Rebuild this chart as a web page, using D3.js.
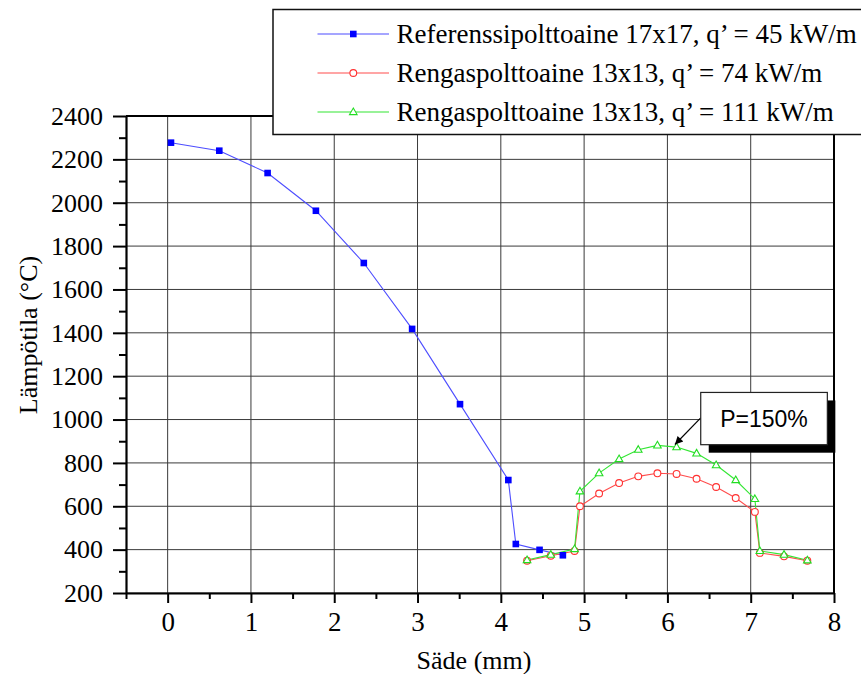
<!DOCTYPE html>
<html>
<head>
<meta charset="utf-8">
<script src="https://cdn.jsdelivr.net/npm/d3@7"></script>
<style>
  body { margin: 0; background: #fff; }
  svg { display: block; }
</style>
</head>
<body>
<script>
// radius (mm) and temperature (C)
var refX  = [0.04, 0.62, 1.20, 1.78, 2.355, 2.935, 3.51, 4.09, 4.18, 4.465, 4.745];
var refY  = [2277, 2240, 2137, 1963, 1722, 1418, 1071, 721, 426, 399, 374];

var ringX = [4.315, 4.60, 4.885, 4.95, 5.18, 5.42, 5.65, 5.88, 6.11, 6.35, 6.585, 6.82, 7.05, 7.11, 7.40, 7.68];
var ring74Y  = [349, 372, 394, 600, 659, 707, 738, 752, 749, 727, 689, 638, 574, 385, 369, 349];
var ring111Y = [352, 377, 403, 669, 753, 818, 861, 881, 873, 844, 790, 721, 634, 394, 377, 351];

var seriesNames = [
  "Referenssipolttoaine 17x17, q\u2019 = 45 kW/m",
  "Rengaspolttoaine 13x13, q\u2019 = 74 kW/m",
  "Rengaspolttoaine 13x13, q\u2019 = 111 kW/m"
];
var xTicks = [0, 1, 2, 3, 4, 5, 6, 7, 8];
var yTicks = [200, 400, 600, 800, 1000, 1200, 1400, 1600, 1800, 2000, 2200, 2400];

// annotation, in data units
var noteText = "P=150%";
var noteTip = [6.09, 885];      // arrow points here
var noteBox = [6.40, 7.92, 1125, 884];  // x0, x1, yTop, yBottom
var noteFrom = [6.40, 1008];

var W = 861, H = 674;
var serif = "'Liberation Serif', 'Times New Roman', serif";

var svg = d3.select("body").append("svg")
  .attr("width", W).attr("height", H);

var x = d3.scaleLinear().domain([-0.5, 8]).range([126, 834]);
var y = d3.scaleLinear().domain([200, 2400]).range([593, 116]);

// grid
var grid = svg.append("g").attr("stroke", "#3a3a3a").attr("stroke-width", 1);
grid.selectAll(".gx").data(xTicks).enter().append("line")
  .attr("x1", d => x(d)).attr("x2", d => x(d))
  .attr("y1", y(200)).attr("y2", y(2400));
grid.selectAll(".gy").data(yTicks).enter().append("line")
  .attr("y1", d => y(d)).attr("y2", d => y(d))
  .attr("x1", x(-0.5)).attr("x2", x(8));

// frame top + right
svg.append("path")
  .attr("d", "M" + x(-0.5) + "," + y(2400) + "H" + x(8) + "V" + y(200))
  .attr("fill", "none").attr("stroke", "#000").attr("stroke-width", 2);

// axes
var minorX = d3.range(-0.5, 8.01, 0.5).filter(v => !xTicks.includes(v));
var minorY = d3.range(300, 2400, 200);

function styleAxis(g, size) {
  g.attr("font-family", null).attr("font-size", null);
  g.select(".domain").attr("stroke-width", 2.2);
  g.selectAll(".tick line").attr("stroke-width", 2);
  g.selectAll("text").style("font-family", serif).style("font-size", size + "px").attr("fill", "#000");
}

svg.append("g").attr("transform", "translate(0," + y(200) + ")")
  .call(d3.axisBottom(x).tickValues(minorX).tickSize(6).tickFormat(""))
  .call(g => g.select(".domain").remove())
  .call(g => g.selectAll(".tick line").attr("stroke-width", 2));
svg.append("g").attr("transform", "translate(0," + y(200) + ")")
  .call(d3.axisBottom(x).tickValues(xTicks).tickSize(10).tickSizeOuter(0).tickPadding(9).tickFormat(d3.format("d")))
  .call(g => styleAxis(g, 27));

svg.append("g").attr("transform", "translate(" + x(-0.5) + ",0)")
  .call(d3.axisLeft(y).tickValues(minorY).tickSize(7).tickFormat(""))
  .call(g => g.select(".domain").remove())
  .call(g => g.selectAll(".tick line").attr("stroke-width", 2));
svg.append("g").attr("transform", "translate(" + x(-0.5) + ",0)")
  .call(d3.axisLeft(y).tickValues(yTicks).tickSize(13).tickSizeOuter(0).tickPadding(10).tickFormat(d3.format("d")))
  .call(g => styleAxis(g, 26));

// axis titles
svg.append("text")
  .attr("x", 474).attr("y", 669)
  .attr("text-anchor", "middle")
  .style("font-family", serif).style("font-size", "26px")
  .text("S\u00e4de (mm)");
svg.append("text")
  .attr("transform", "translate(37,335) rotate(-90)")
  .attr("text-anchor", "middle")
  .style("font-family", serif).style("font-size", "26px")
  .text("L\u00e4mp\u00f6tila (\u00b0C)");

// series
var series = [
  { xs: refX,  ys: refY,     line: "#4d4dff", mark: "#0000ff", sym: "square" },
  { xs: ringX, ys: ring74Y,  line: "#ff4d4d", mark: "#ff3030", sym: "circle" },
  { xs: ringX, ys: ring111Y, line: "#33e633", mark: "#22dd22", sym: "triangle" }
];

var line = d3.line().x(d => x(d[0])).y(d => y(d[1]));

function drawMarker(g, s, px, py) {
  if (s.sym === "square") {
    g.append("rect").attr("x", px - 3.3).attr("y", py - 3.3)
      .attr("width", 6.6).attr("height", 6.6).attr("fill", s.mark);
  } else if (s.sym === "circle") {
    g.append("circle").attr("cx", px).attr("cy", py).attr("r", 3.4)
      .attr("fill", "#fff").attr("stroke", s.mark).attr("stroke-width", 1.1);
  } else {
    g.append("path")
      .attr("d", "M" + px + "," + (py - 4) + "L" + (px + 3.8) + "," + (py + 2.6) + "L" + (px - 3.8) + "," + (py + 2.6) + "Z")
      .attr("fill", "#fff").attr("stroke", s.mark).attr("stroke-width", 1.1);
  }
}

series.forEach(function (s) {
  var pts = s.xs.map((v, i) => [v, s.ys[i]]);
  svg.append("path").datum(pts)
    .attr("d", line).attr("fill", "none")
    .attr("stroke", s.line).attr("stroke-width", 1.1);
});
series.forEach(function (s) {
  var g = svg.append("g");
  s.xs.forEach((v, i) => drawMarker(g, s, x(v), y(s.ys[i])));
});

// annotation
svg.append("defs").append("marker")
  .attr("id", "arrow").attr("viewBox", "0 0 10 10")
  .attr("refX", 10).attr("refY", 5)
  .attr("markerWidth", 11).attr("markerHeight", 8)
  .attr("markerUnits", "userSpaceOnUse")
  .attr("orient", "auto")
  .append("path").attr("d", "M0,0L10,5L0,10Z").attr("fill", "#000");

svg.append("line")
  .attr("x1", x(noteFrom[0])).attr("y1", y(noteFrom[1]))
  .attr("x2", x(noteTip[0])).attr("y2", y(noteTip[1]))
  .attr("stroke", "#000").attr("stroke-width", 1.2)
  .attr("marker-end", "url(#arrow)");

var bx = x(noteBox[0]), bw = x(noteBox[1]) - x(noteBox[0]);
var by = y(noteBox[2]), bh = y(noteBox[3]) - y(noteBox[2]);
svg.append("rect").attr("x", bx + 8).attr("y", by + 8)
  .attr("width", bw).attr("height", bh).attr("fill", "#000");
svg.append("rect").attr("x", bx).attr("y", by)
  .attr("width", bw).attr("height", bh)
  .attr("fill", "#fff").attr("stroke", "#222").attr("stroke-width", 1.2);
svg.append("text")
  .attr("x", bx + bw / 2).attr("y", by + bh / 2 + 8.5)
  .attr("text-anchor", "middle")
  .style("font-family", "'Liberation Sans', Arial, sans-serif").style("font-size", "23px")
  .text(noteText);

// legend
var leg = svg.append("g").attr("transform", "translate(273,9.5)");
leg.append("rect").attr("width", 600).attr("height", 125)
  .attr("fill", "#fff").attr("stroke", "#111").attr("stroke-width", 1.5);
series.forEach(function (s, i) {
  var ry = 24.5 + i * 39;
  var g = leg.append("g");
  g.append("line").attr("x1", 44.5).attr("x2", 116).attr("y1", ry).attr("y2", ry)
    .attr("stroke", s.line).attr("stroke-width", 1.1);
  drawMarker(g, s, 80.3, ry);
  g.append("text").attr("x", 123.5).attr("y", ry + 9.3)
    .style("font-family", serif).style("font-size", "27px")
    .text(seriesNames[i]);
});
</script>
</body>
</html>
